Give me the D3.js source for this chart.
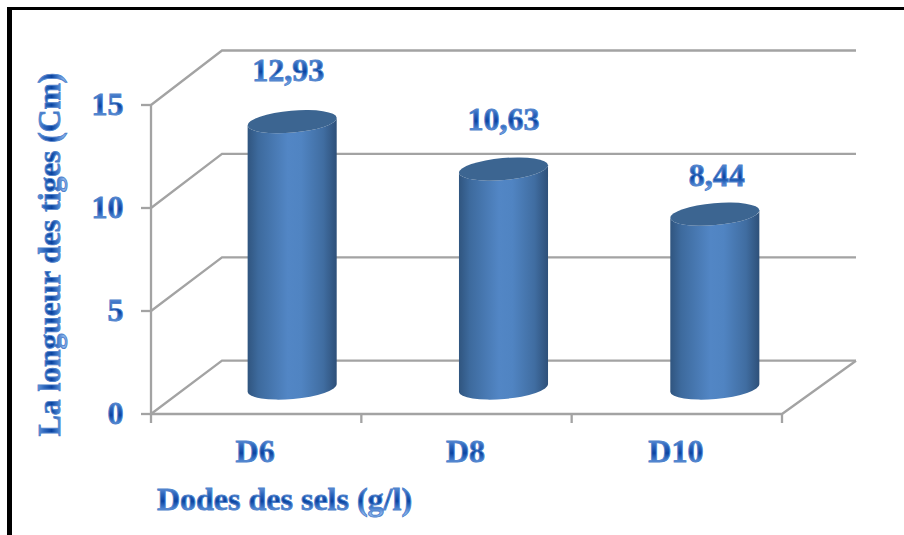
<!DOCTYPE html>
<html><head><meta charset="utf-8">
<script src="https://cdn.jsdelivr.net/npm/d3@7/dist/d3.min.js"></script>
<style>html,body{margin:0;padding:0;background:#fff;overflow:hidden}svg{display:block}</style>
</head><body><script>
const categories = ["D6","D8","D10"];
const values = [12.93,10.63,8.44];
const valueLabels = ["12,93","10,63","8,44"];
const yTicks = [0,5,10,15];
const xTitle = "Dodes des sels (g/l)";
const yTitle = "La longueur des tiges (Cm)";

const W=904,H=535;
const svg=d3.select("body").append("svg").attr("width",W).attr("height",H);
const defs=svg.append("defs");

const textGrad=defs.append("linearGradient").attr("id","txt").attr("x1",0).attr("y1",0).attr("x2",0).attr("y2",1);
[[0.12,"#6f9fe0"],[0.35,"#2f68bd"],[0.56,"#0b44a0"],[0.72,"#3a74c6"],[0.9,"#86b0ea"]]
  .forEach(s=>textGrad.append("stop").attr("offset",s[0]).attr("stop-color",s[1]));

const cylGrad=defs.append("linearGradient").attr("id","cyl").attr("x1",0).attr("y1",0).attr("x2",1).attr("y2",0);
[[0,"#30557f"],[0.12,"#3d6a9d"],[0.45,"#5286c5"],[0.6,"#5084c2"],[0.85,"#406da1"],[1,"#2e5079"]]
  .forEach(s=>cylGrad.append("stop").attr("offset",s[0]).attr("stop-color",s[1]));

// plot geometry
const x0=151,x1=782,yBase=414,yTop=105;
const x=d3.scaleBand().domain(categories).range([x0,x1]).padding(0);
const xMid=d3.scaleBand().domain(categories).range([186.5,820.5]).padding(0);
const y=d3.scaleLinear().domain([0,15]).range([yBase,yTop]);
const yBack=d3.scaleLinear().domain([0,15]).range([360.7,50.5]);
const backL=222,backR=856;
const gridColor="#a3a3a3";

// frame
svg.append("rect").attr("x",7).attr("y",7).attr("width",897).attr("height",3).attr("fill","#000");
svg.append("rect").attr("x",7).attr("y",7).attr("width",5).attr("height",528).attr("fill","#000");

// walls
const g=svg.append("g").attr("fill","none").attr("stroke",gridColor).attr("stroke-width",2.3);
g.selectAll("path.grid").data(yTicks).join("path").attr("class","grid")
  .attr("d",d=>`M${x0},${y(d)}L${backL},${yBack(d)}H${backR}`);
g.append("path").attr("d",`M${x0},${yTop}V${yBase}H${x1}L${backR},${yBack(0)}`);
g.selectAll("path.yt").data(yTicks).join("path").attr("class","yt")
  .attr("d",d=>`M${x0-10},${y(d)}H${x0}`);
g.selectAll("path.xt").data(d3.range(categories.length+1)).join("path").attr("class","xt")
  .attr("d",i=>{const xx=i<categories.length?x(categories[i]):x1;return `M${xx},${yBase}V${yBase+9}`});

// cylinders
const offY=-26, rx=44.7, ry=11, tilt=-5;
const rad=tilt*Math.PI/180;
const ex=rx*Math.cos(rad), ey=rx*Math.sin(rad);
const cx=c=>xMid(c)+xMid.bandwidth()/2;
const cyl=svg.selectAll("g.cyl").data(categories.map((c,i)=>({c,v:values[i]}))).join("g").attr("class","cyl");
cyl.append("path").attr("fill","url(#cyl)").attr("d",d=>{
  const X=cx(d.c), t=y(d.v)+offY, b=y(0)+offY;
  return `M${X-ex},${t-ey}L${X-ex},${b-ey}A${rx},${ry} ${tilt} 0 0 ${X+ex},${b+ey}L${X+ex},${t+ey}A${rx},${ry} ${tilt} 0 1 ${X-ex},${t-ey}Z`;
});
cyl.append("ellipse").attr("cx",0).attr("cy",0).attr("rx",rx).attr("ry",ry)
  .attr("transform",d=>`translate(${cx(d.c)},${y(d.v)+offY}) rotate(${tilt})`)
  .attr("fill","#3c6591");

// text
function t(sel,size){return sel.attr("font-family","'Liberation Serif',serif").attr("font-weight","bold")
  .attr("font-size",size).attr("fill","url(#txt)").attr("stroke","#4f82cc").attr("stroke-width",0.9);}
t(svg.selectAll("text.yl").data(yTicks).join("text").attr("class","yl").attr("text-anchor","end")
  .attr("x",123.5).attr("y",d=>y(d)+10).text(d=>d),32);
t(svg.selectAll("text.xl").data(categories).join("text").attr("class","xl").attr("text-anchor","middle")
  .attr("x",d=>x(d)+x.bandwidth()/2-1).attr("y",462).text(d=>d),32);
const labelDy=[-41,-39,-28], labelDx=[-4,0,2];
t(svg.selectAll("text.vl").data(categories).join("text").attr("class","vl").attr("text-anchor","middle")
  .attr("x",(d,i)=>cx(d)+labelDx[i]).attr("y",(d,i)=>y(values[i])+offY+labelDy[i]).text((d,i)=>valueLabels[i]),32);
t(svg.append("text").attr("x",284.5).attr("y",510).attr("text-anchor","middle").text(xTitle),32);
t(svg.append("text").attr("transform","translate(60,254.5) rotate(-90)").attr("text-anchor","middle").text(yTitle),31.5);
</script></body></html>
